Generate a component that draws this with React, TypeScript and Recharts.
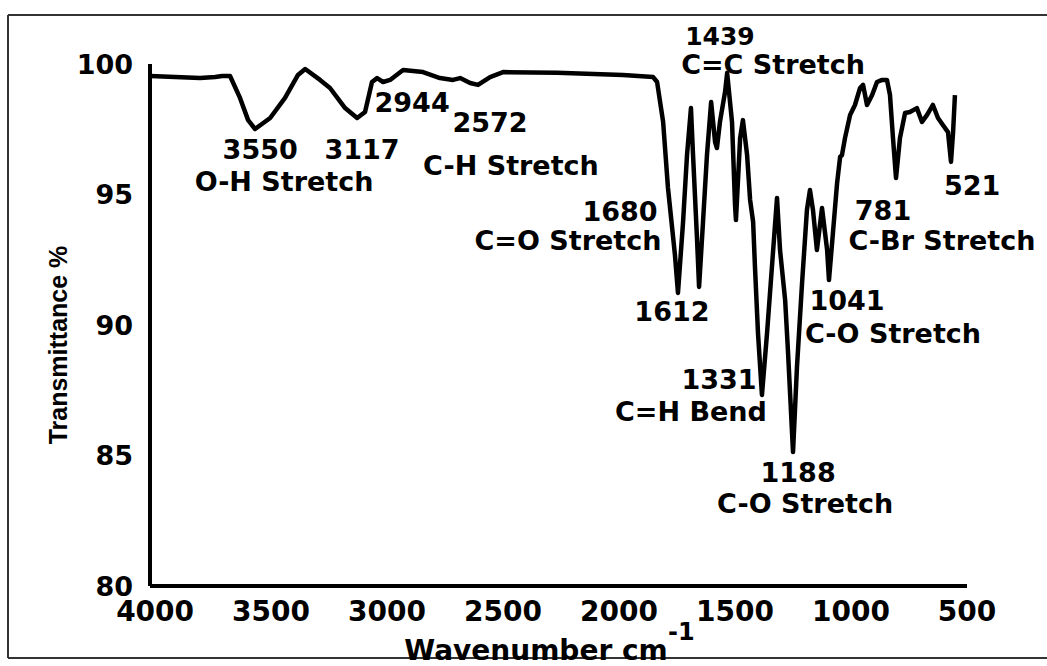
import React from "react";
import { LineChart, Line, XAxis, YAxis, ReferenceDot } from "recharts";

// Spectrum
const WAVENUMBER = [
  4020, 3914, 3806, 3741, 3711, 3677, 3634, 3599, 3569, 3504, 3440, 3384, 3353, 3289, 3246, 3181,
  3129, 3095, 3065, 3043, 3017, 2987, 2931, 2845, 2772, 2716, 2685, 2642, 2608, 2556, 2500, 2267,
  1983, 1853, 1836, 1810, 1789, 1759, 1746, 1724, 1707, 1690, 1681, 1664, 1655, 1638, 1621, 1603,
  1586, 1578, 1565, 1543, 1534, 1513, 1500, 1496, 1478, 1466, 1448, 1435, 1422, 1414, 1401, 1384,
  1362, 1341, 1319, 1306, 1284, 1272, 1250, 1233, 1211, 1190, 1177, 1164, 1147, 1125, 1103, 1095,
  1078, 1060, 1047, 1039, 1026, 1004, 983, 961, 948, 931, 909, 888, 866, 845, 832, 819, 806, 789,
  767, 746, 716, 694, 672, 647, 625, 604, 582, 569, 560, 552,
];
const TRANSMITTANCE = [
  99.54, 99.5, 99.46, 99.5, 99.54, 99.54, 98.7, 97.85, 97.51, 97.93, 98.7, 99.58, 99.81, 99.39, 99.08, 98.31,
  97.93, 98.16, 99.31, 99.46, 99.31, 99.39, 99.77, 99.69, 99.46, 99.39, 99.46, 99.27, 99.2, 99.5, 99.69, 99.66,
  99.58, 99.5, 99.31, 97.78, 95.25, 92.68, 91.23, 93.95, 96.51, 98.31, 96.51, 93.33, 91.46, 93.95, 96.51, 98.54,
  97.01, 96.78, 97.78, 98.93, 99.66, 97.78, 94.6, 94.02, 97.16, 97.85, 96.51, 94.79, 93.95, 92.22, 89.69, 87.32,
  89.69, 92.22, 94.87, 92.87, 90.96, 89.04, 85.13, 88.39, 91.61, 94.41, 95.17, 94.41, 92.87, 94.48, 92.87, 91.72,
  93.52, 95.44, 96.44, 96.51, 97.16, 98.05, 98.43, 99.08, 99.2, 98.43, 98.81, 99.31, 99.39, 99.39, 98.81, 97.16, 95.63, 97.16,
  98.12, 98.16, 98.31, 97.78, 98.05, 98.43, 97.93, 97.66, 97.39, 96.25, 97.39, 98.81,
];

const X_TICKS = [4000, 3500, 3000, 2500, 2000, 1500, 1000, 500];
const Y_TICKS = [80, 85, 90, 95, 100];

// Annotations: text and the (wavenumber, transmittance) where each sits
const NOTE_TEXT = [
  "3550", "3117", "O-H Stretch", "2944", "2572", "C-H Stretch", "1680", "C=O Stretch", "1612",
  "1439", "C=C Stretch", "781", "C-Br Stretch", "521", "1041", "C-O Stretch", "1331", "C=H Bend",
  "1188", "C-O Stretch",
];
const NOTE_W = [
  3547, 3108, 3444, 2892, 2556, 2466, 1996, 2220, 1772, 1565, 1336, 862, 608, 478, 1017, 819, 1569,
  1690, 1228, 1198,
];
const NOTE_T = [
  96.74, 96.74, 95.48, 98.54, 97.74, 96.13, 94.33, 93.22, 90.5, 101.05, 99.98, 94.37, 93.22, 95.33,
  90.92, 89.66, 87.93, 86.7, 84.33, 83.18,
];

const data = WAVENUMBER.map((w, i) => ({ w, t: TRANSMITTANCE[i] }));
const notes = NOTE_TEXT.map((text, i) => ({ text, w: NOTE_W[i], t: NOTE_T[i] }));

const FONT = "'DejaVu Sans', sans-serif";

const NoteLabel = (text: string, size: number) => (props: any) => {
  const vb = props.viewBox || {};
  const cx = (vb.x || 0) + (vb.width || 0) / 2;
  const cy = (vb.y || 0) + (vb.height || 0) / 2;
  return (
    <text
      x={cx}
      y={cy}
      textAnchor="middle"
      dominantBaseline="central"
      fontFamily={FONT}
      fontWeight="bold"
      fontSize={size}
      fill="#000"
    >
      {text}
    </text>
  );
};

export default function App() {
  return (
    <div style={{ position: "absolute", left: 0, top: 0, width: 1047, height: 666, background: "#fff", overflow: "hidden" }}>
      <LineChart
        width={1047}
        height={666}
        data={data}
        margin={{ top: 64, right: 80, bottom: 40, left: 0 }}
      >
        <XAxis
          type="number"
          dataKey="w"
          domain={[500, 4022]}
          reversed
          ticks={X_TICKS}
          height={40}
          tickLine={false}
          tickSize={6}
          tickMargin={9}
          axisLine={{ stroke: "#000", strokeWidth: 4 }}
          tick={{ fill: "#000", fontFamily: FONT, fontWeight: "bold", fontSize: 28 }}
          interval={0}
        />
        <YAxis
          type="number"
          domain={[80, 100]}
          ticks={Y_TICKS}
          width={150}
          tickLine={false}
          tickSize={8}
          tickMargin={9}
          axisLine={{ stroke: "#000", strokeWidth: 4 }}
          tick={{ fill: "#000", fontFamily: FONT, fontWeight: "bold", fontSize: 27 }}
          interval={0}
        />
        <Line
          type="linear"
          dataKey="t"
          stroke="#000"
          strokeWidth={4.5}
          strokeLinejoin="round"
          dot={false}
          isAnimationActive={false}
        />
        {notes.map((n, i) => (
          <ReferenceDot
            key={i}
            x={n.w}
            y={n.t}
            r={0}
            ifOverflow="visible"
            fill="none"
            stroke="none"
            label={NoteLabel(n.text, n.text === "1439" ? 25 : 27)}
          />
        ))}
      </LineChart>
      <svg
        width={1047}
        height={666}
        style={{ position: "absolute", left: 0, top: 0, pointerEvents: "none" }}
      >
        <line x1={8} y1={15} x2={1047} y2={15} stroke="#333" strokeWidth={2} />
        <line x1={8} y1={15} x2={8} y2={658} stroke="#333" strokeWidth={2} />
        <line x1={8} y1={658} x2={1047} y2={658} stroke="#333" strokeWidth={2} />
        <text
          x={58}
          y={345}
          transform="rotate(-90 58 345)"
          textAnchor="middle"
          dominantBaseline="central"
          fontFamily="'Liberation Sans', Arial, sans-serif"
          fontWeight="bold"
          fontSize={25}
          fill="#000"
        >
          Transmittance %
        </text>
        <text
          x={536}
          y={660}
          textAnchor="middle"
          fontFamily={FONT}
          fontWeight="bold"
          fontSize={28}
          fill="#000"
        >
          Wavenumber cm
        </text>
        <text x={668} y={640} fontFamily={FONT} fontWeight="bold" fontSize={24} fill="#000">
          -1
        </text>
      </svg>
    </div>
  );
}
